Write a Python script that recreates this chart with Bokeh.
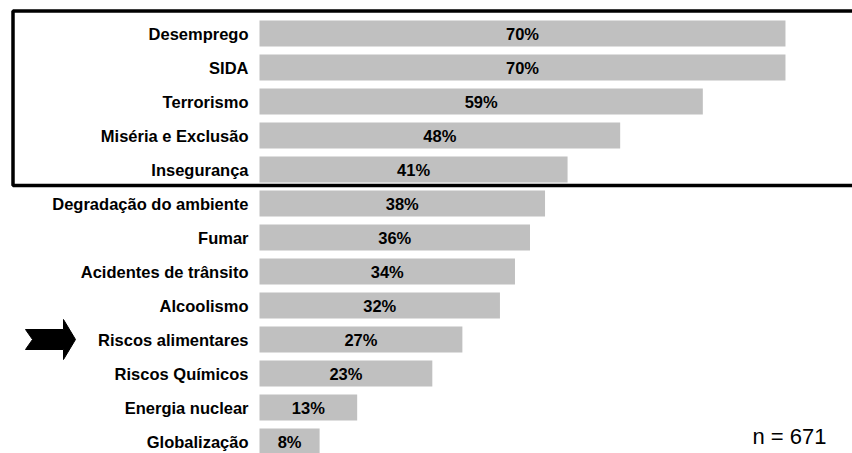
from bokeh.plotting import figure
from bokeh.models import Range1d, ColumnDataSource
from bokeh.embed import file_html
from bokeh.resources import INLINE
from bokeh.core.properties import value

# ---- data ----
categories = ["Desemprego", "SIDA", "Terrorismo", "Miséria e Exclusão", "Insegurança",
              "Degradação do ambiente", "Fumar", "Acidentes de trânsito", "Alcoolismo",
              "Riscos alimentares", "Riscos Químicos", "Energia nuclear", "Globalização"]
values = [70, 70, 59, 48, 41, 38, 36, 34, 32, 27, 23, 13, 8]
value_labels = [f"{v}%" for v in values]
highlight_count = 5
marked_category = "Riscos alimentares"
n_text = "n = 671"

# ---- layout (pixels) ----
W, H = 852, 453
X0 = 259.0      # pixel where bars start
PX = 7.514      # pixels per percent
Y0 = 33.0       # pixel centre of first row
ROW = 34.0      # pixels per row

def xd(px):
    return (px - X0) / PX

def yd(py):
    return (py - Y0) / ROW

FONT = "Liberation Sans"

p = figure(width=W, height=H, output_backend="svg", toolbar_location=None,
           x_range=Range1d(xd(0), xd(W)), y_range=Range1d(yd(H), yd(0)),
           min_border=0, outline_line_color=None, background_fill_color="white",
           border_fill_color="white")
p.axis.visible = False
p.grid.visible = False

idx = list(range(len(categories)))
src = ColumnDataSource(dict(y=idx, v=values, mid=[v / 2 for v in values],
                            lab=value_labels, cat=categories))

p.hbar(y="y", left=0, right="v", height=26 / ROW, source=src,
       fill_color="#c0c0c0", line_color=None)

p.text(x="mid", y="y", text="lab", source=src, text_align="center",
       text_baseline="middle", text_font=value(FONT), text_font_style="bold",
       text_font_size="16.5px", text_color="black")

p.text(x=xd(248), y="y", text="cat", source=src, text_align="right",
       text_baseline="middle", text_font=value(FONT), text_font_style="bold",
       text_font_size="16.5px", text_color="black")

# highlight box around top categories
p.quad(left=xd(12.5), right=xd(W + 10), top=yd(10.5),
       bottom=highlight_count - 1 + (185 - (Y0 + 4 * ROW)) / ROW,
       fill_color=None, line_color="black", line_width=3.5)

# arrow pointing at marked category
r = categories.index(marked_category)
ax_px = [25, 32, 25, 63, 63, 75, 63, 63]
ay_px = [-10, 0, 10, 10, 20, 0, -20, -10]
p.patch(x=[xd(a) for a in ax_px], y=[r + b / ROW for b in ay_px],
        fill_color="black", line_color="black", line_width=1)

p.text(x=[xd(826)], y=[yd(436)], text=[n_text], text_align="right",
       text_baseline="middle", text_font=value(FONT), text_font_size="22px",
       text_color="black")

open("out.html", "w").write(file_html(p, INLINE))
